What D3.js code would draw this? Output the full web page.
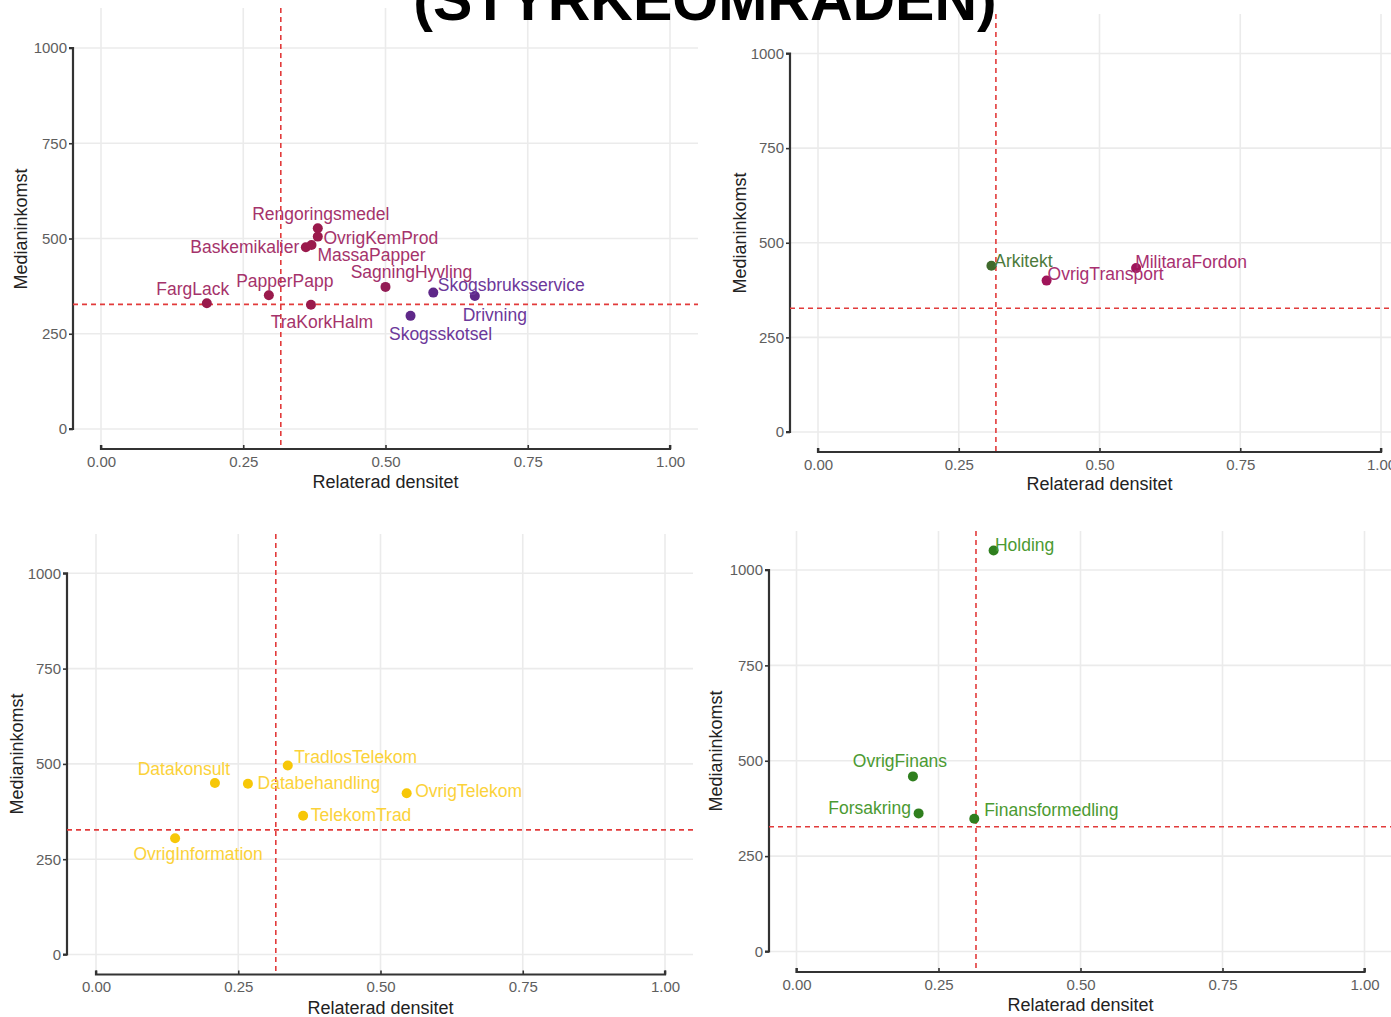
<!DOCTYPE html>
<html>
<head>
<meta charset="utf-8">
<script src="https://cdn.jsdelivr.net/npm/d3@7"></script>
<style>
  html, body { margin: 0; padding: 0; background: #ffffff; }
  svg { display: block; font-family: "Liberation Sans", Arial, sans-serif; }
</style>
</head>
<body>
<svg id="chart" width="1391" height="1017"></svg>
<script>
// ---------------- DATA ----------------
const titleText = "(STYRKEOMRADEN)";
const xTicks = [0, 0.25, 0.5, 0.75, 1];
const xTickLabels = ["0.00", "0.25", "0.50", "0.75", "1.00"];
const yTicks = [0, 250, 500, 750, 1000];
const yTickLabels = ["0", "250", "500", "750", "1000"];
const xTitle = "Relaterad densitet";
const yTitle = "Medianinkomst";
const refX = 0.316;   // relaterad densitet reference
const refY = 327;     // medianinkomst reference

// Panel 1 (kemi / papper / skog)
const p1Names = ["Rengoringsmedel", "OvrigKemProd", "Baskemikalier", "MassaPapper", "SagningHyvling",
                 "FargLack", "PapperPapp", "Skogsbruksservice", "TraKorkHalm", "Drivning", "Skogsskotsel"];
const p1X = [0.381, 0.381, 0.360, 0.370, 0.500, 0.186, 0.295, 0.584, 0.369, 0.657, 0.544];
const p1Y = [527, 505, 477, 483, 373, 330, 351, 358, 326, 349, 297];
const p1Group = ["kem", "kem", "kem", "kem", "tra", "kem", "kem", "skog", "kem", "skog", "skog"];

// Panel 2 (transport / arkitekt)
const p2Names = ["Arkitekt", "OvrigTransport", "MilitaraFordon"];
const p2X = [0.308, 0.406, 0.565];
const p2Y = [439, 400, 433];
const p2Group = ["ark", "trans", "trans"];

// Panel 3 (information / telekom)
const p3Names = ["Datakonsult", "Databehandling", "TradlosTelekom", "OvrigTelekom", "TelekomTrad", "OvrigInformation"];
const p3X = [0.209, 0.267, 0.337, 0.546, 0.364, 0.139];
const p3Y = [450, 448, 496, 423, 364, 305];
const p3Group = ["info", "info", "info", "info", "info", "info"];

// Panel 4 (finans)
const p4Names = ["Holding", "OvrigFinans", "Forsakring", "Finansformedling"];
const p4X = [0.347, 0.205, 0.215, 0.313];
const p4Y = [1051, 459, 362, 348];
const p4Group = ["fin", "fin", "fin", "fin"];

// ---------------- STYLE / LAYOUT ----------------
const pointColor = {
  kem: "#9a1a4c", tra: "#921c55", skog: "#5f2889",
  ark: "#3f6a2c", trans: "#a0155a", info: "#f7c707", fin: "#2f7f1e"
};
const labelColor = {
  kem: "#a5336b", tra: "#a3306b", skog: "#6c389a",
  ark: "#4d7a3b", trans: "#a83070", info: "#fbd23a", fin: "#4b9a32"
};

// label offsets (pixels from point to label centre)
const p1Off = [[3, -14], [63, 1], [-61, 0], [60, 10], [26, -15], [-14, -14], [16, -14], [78, -8], [11, 17], [20, 19], [30, 18]];
const p2Off = [[32, -5], [59, -7], [55, -6]];
const p3Off = [[-31, -14], [71, -1], [68, -8], [62, -2], [58, -1], [23, 16]];
const p4Off = [[31, -6], [-13, -15], [-49, -5], [77, -9]];

const panels = [
  { names: p1Names, xs: p1X, ys: p1Y, groups: p1Group, off: p1Off,
    px0: 101, px1: 670, py0: 429, py1: 48, axisX: 73, axisY: 449,
    gridTop: 8, gridRight: 698, yTitleX: 21, yTitleY: 229, xTitleY: 482 },
  { names: p2Names, xs: p2X, ys: p2Y, groups: p2Group, off: p2Off,
    px0: 818, px1: 1381, py0: 432, py1: 53.5, axisX: 790, axisY: 452,
    gridTop: 14, gridRight: 1400, yTitleX: 740, yTitleY: 233, xTitleY: 484 },
  { names: p3Names, xs: p3X, ys: p3Y, groups: p3Group, off: p3Off,
    px0: 96, px1: 665, py0: 954.5, py1: 573.3, axisX: 67, axisY: 974.5,
    gridTop: 534, gridRight: 693, yTitleX: 17, yTitleY: 754, xTitleY: 1008 },
  { names: p4Names, xs: p4X, ys: p4Y, groups: p4Group, off: p4Off,
    px0: 796.5, px1: 1364.5, py0: 951.5, py1: 570, axisX: 769, axisY: 972,
    gridTop: 531, gridRight: 1400, yTitleX: 716, yTitleY: 751, xTitleY: 1005 }
];

const svg = d3.select("#chart");

panels.forEach(p => {
  const g = svg.append("g");
  const x = d3.scaleLinear().domain([0, 1]).range([p.px0, p.px1]);
  const y = d3.scaleLinear().domain([0, 1000]).range([p.py0, p.py1]);

  // grid
  g.append("g").selectAll("line.v").data(xTicks).join("line")
    .attr("x1", d => x(d)).attr("x2", d => x(d))
    .attr("y1", p.gridTop).attr("y2", p.axisY)
    .attr("stroke", "#ebebeb").attr("stroke-width", 1.6);
  g.append("g").selectAll("line.h").data(yTicks).join("line")
    .attr("x1", p.axisX).attr("x2", p.gridRight)
    .attr("y1", d => y(d)).attr("y2", d => y(d))
    .attr("stroke", "#ebebeb").attr("stroke-width", 1.6);

  // y axis (capped to data range)
  const yAxis = d3.axisLeft(y).tickValues(yTicks).tickFormat((d, i) => yTickLabels[i])
    .tickSize(4).tickPadding(2);
  const ya = g.append("g").attr("transform", `translate(${p.axisX},0)`).call(yAxis);
  ya.select(".domain").attr("d", `M-4,${y(0)}H0V${y(1000)}H-4`).attr("stroke", "#333").attr("stroke-width", 2.2).attr("fill", "none");
  ya.selectAll(".tick line").attr("stroke", "#333").attr("stroke-width", 1.6);
  ya.selectAll(".tick text").attr("fill", "#5e5e5e").style("font-size", "15px")
    .style("font-family", "'Liberation Sans', Arial, sans-serif");

  // x axis (capped)
  const xAxis = d3.axisBottom(x).tickValues(xTicks).tickFormat((d, i) => xTickLabels[i])
    .tickSize(-4).tickPadding(7);
  const xa = g.append("g").attr("transform", `translate(0,${p.axisY})`).call(xAxis);
  xa.select(".domain").attr("d", `M${x(0)},-4V0H${x(1)}V-4`).attr("stroke", "#333").attr("stroke-width", 2.2).attr("fill", "none");
  xa.selectAll(".tick line").attr("stroke", "#333").attr("stroke-width", 1.6);
  xa.selectAll(".tick text").attr("fill", "#5e5e5e").style("font-size", "15px")
    .style("font-family", "'Liberation Sans', Arial, sans-serif");

  // axis titles
  g.append("text").attr("x", (x(0) + x(1)) / 2).attr("y", p.xTitleY)
    .attr("text-anchor", "middle").attr("dominant-baseline", "central")
    .attr("fill", "#222").style("font-size", "18px").text(xTitle);
  g.append("text").attr("transform", `translate(${p.yTitleX},${p.yTitleY}) rotate(-90)`)
    .attr("text-anchor", "middle").attr("dominant-baseline", "central")
    .attr("fill", "#222").style("font-size", "18px").text(yTitle);

  // reference lines
  g.append("line").attr("x1", x(refX)).attr("x2", x(refX))
    .attr("y1", p.gridTop).attr("y2", p.axisY)
    .attr("stroke", "#e23b3b").attr("stroke-width", 1.6).attr("stroke-dasharray", "5,4");
  g.append("line").attr("x1", p.axisX).attr("x2", p.gridRight)
    .attr("y1", y(refY)).attr("y2", y(refY))
    .attr("stroke", "#e23b3b").attr("stroke-width", 1.6).attr("stroke-dasharray", "5,4");

  const data = p.names.map((n, i) => ({ name: n, x: p.xs[i], y: p.ys[i], grp: p.groups[i], off: p.off[i] }));

  // points
  g.append("g").selectAll("circle").data(data).join("circle")
    .attr("cx", d => x(d.x)).attr("cy", d => y(d.y)).attr("r", 5)
    .attr("fill", d => pointColor[d.grp]);

  // labels
  g.append("g").selectAll("text").data(data).join("text")
    .attr("x", d => x(d.x) + d.off[0]).attr("y", d => y(d.y) + d.off[1])
    .attr("text-anchor", "middle").attr("dominant-baseline", "central")
    .attr("fill", d => labelColor[d.grp]).style("font-size", "17.5px")
    .text(d => d.name);
});

// title (top is cut off by the page edge)
svg.append("text").attr("x", 705).attr("y", 20).attr("text-anchor", "middle")
  .style("font-size", "59px").style("font-weight", "bold").attr("fill", "#000")
  .text(titleText);
</script>
</body>
</html>
